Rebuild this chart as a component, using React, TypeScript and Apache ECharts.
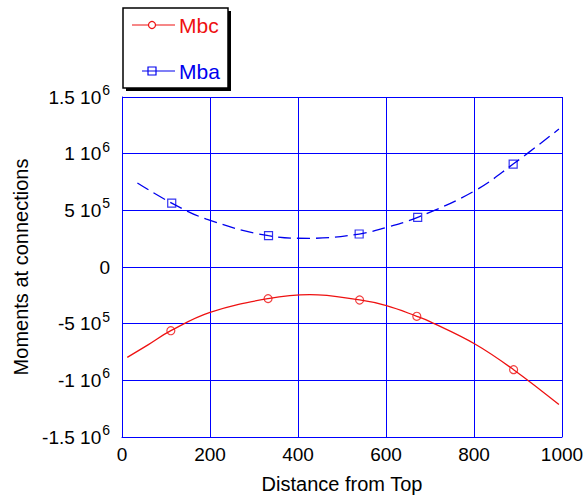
import React, { useEffect, useRef } from "react";
import * as echarts from "echarts";

const xTicks = [0, 200, 400, 600, 800, 1000];
const yTickValues = [-1.5e6, -1e6, -5e5, 0, 5e5, 1e6, 1.5e6];
const yTickMantissa = ["-1.5", "-1", "-5", "0", "5", "1", "1.5"];
const yTickExponent = ["6", "6", "5", "", "5", "6", "6"];

// Mbc fitted curve
const mbcCurveX = [12, 60, 111, 200, 332, 427, 540, 601, 670, 700, 802, 890, 993];
const mbcCurveY = [-7.97e5, -6.85e5, -5.62e5, -4.0e5, -2.79e5, -2.44e5, -2.91e5, -3.41e5, -4.35e5, -4.82e5, -6.79e5, -9.06e5, -1.214e6];
// Mbc markers
const mbcPtsX = [111, 332, 540, 670, 890];
const mbcPtsY = [-5.62e5, -2.79e5, -2.91e5, -4.35e5, -9.06e5];

// Mba fitted curve
const mbaCurveX = [35, 113, 192, 333, 427, 539, 601, 672, 802, 889, 993];
const mbaCurveY = [7.41e5, 5.64e5, 4.23e5, 2.76e5, 2.53e5, 2.91e5, 3.5e5, 4.38e5, 6.73e5, 9.08e5, 1.217e6];
// Mba markers
const mbaPtsX = [113, 333, 539, 672, 889];
const mbaPtsY = [5.64e5, 2.76e5, 2.91e5, 4.38e5, 9.08e5];

const RED = "#ee1111";
const BLUE = "#0000ee";
const GRID = "#0000ff";
const FONT = "'Liberation Sans', Arial, sans-serif";

export default function App() {
  const ref = useRef<HTMLDivElement>(null);
  useEffect(() => {
    if (!ref.current) return;
    const chart = echarts.init(ref.current, undefined, { renderer: "svg" });
    const zip = (xs: number[], ys: number[]) => xs.map((x, i) => [x, ys[i]]);
    chart.setOption({
      animation: false,
      backgroundColor: "#ffffff",
      textStyle: { fontFamily: FONT },
      grid: { left: 122, right: 24, top: 97, bottom: 60, containLabel: false, outerBoundsMode: "none" },
      xAxis: {
        type: "value",
        min: 0,
        max: 1000,
        interval: 200,
        name: "Distance from Top",
        nameLocation: "middle",
        nameGap: 37,
        nameTextStyle: { fontSize: 20, color: "#000", fontFamily: FONT },
        axisLine: { show: true, onZero: false, lineStyle: { color: GRID, width: 1 } },
        axisTick: { show: false },
        axisLabel: {
          margin: 8,
          fontSize: 19,
          color: "#000",
          fontFamily: FONT,
          formatter: (v: number) => (xTicks.includes(v) ? String(v) : ""),
        },
        splitLine: { show: true, lineStyle: { color: GRID, width: 1 } },
      },
      yAxis: {
        type: "value",
        min: -1.5e6,
        max: 1.5e6,
        interval: 5e5,
        name: "Moments at connections",
        nameLocation: "middle",
        nameGap: 89,
        nameTextStyle: { fontSize: 20, color: "#000", fontFamily: FONT },
        axisLine: { show: true, onZero: false, lineStyle: { color: GRID, width: 1 } },
        axisTick: { show: false },
        axisLabel: {
          margin: 12,
          color: "#000",
          fontFamily: FONT,
          formatter: (v: number) => {
            const i = yTickValues.findIndex((t) => Math.abs(t - v) < 1);
            if (i < 0) return "";
            const m = yTickMantissa[i];
            const e = yTickExponent[i];
            return e ? `{b|${m} 10}{s|${e}}` : `{b|${m}}`;
          },
          rich: {
            b: { fontSize: 19, color: "#000", fontFamily: FONT },
            s: { fontSize: 14, color: "#000", fontFamily: FONT, padding: [0, 0, 14, 1] },
          },
        },
        splitLine: { show: true, lineStyle: { color: GRID, width: 1 } },
      },
      series: [
        {
          name: "Mbc",
          type: "line",
          smooth: 0.4,
          symbol: "none",
          data: zip(mbcCurveX, mbcCurveY),
          lineStyle: { color: RED, width: 1.3 },
          z: 3,
        },
        {
          name: "MbcPts",
          type: "scatter",
          symbol: "circle",
          symbolSize: 8,
          data: zip(mbcPtsX, mbcPtsY),
          itemStyle: { color: "rgba(255,255,255,0)", borderColor: RED, borderWidth: 1.2 },
          z: 4,
        },
        {
          name: "Mba",
          type: "line",
          smooth: 0.4,
          symbol: "none",
          data: zip(mbaCurveX, mbaCurveY),
          lineStyle: { color: BLUE, width: 1.3, type: [13, 6] },
          z: 3,
        },
        {
          name: "MbaPts",
          type: "scatter",
          symbol: "rect",
          symbolSize: 8,
          data: zip(mbaPtsX, mbaPtsY),
          itemStyle: { color: "rgba(255,255,255,0)", borderColor: BLUE, borderWidth: 1.2 },
          z: 4,
        },
      ],
      graphic: [
        { type: "rect", shape: { x: 126, y: 11, width: 105, height: 80 }, style: { fill: "#000" }, z: 100 },
        { type: "rect", shape: { x: 123, y: 8, width: 105, height: 80 }, style: { fill: "#fff", stroke: "#000", lineWidth: 1.5 }, z: 101 },
        { type: "line", shape: { x1: 132, y1: 25, x2: 175, y2: 25 }, style: { stroke: RED, lineWidth: 1.2 }, z: 102 },
        { type: "circle", shape: { cx: 152, cy: 25, r: 3.5 }, style: { fill: "#fff", stroke: RED, lineWidth: 1.2 }, z: 103 },
        { type: "text", x: 179, y: 25, style: { text: "Mbc", fill: RED, fontSize: 21, fontFamily: FONT, verticalAlign: "middle" }, z: 103 },
        { type: "line", shape: { x1: 142, y1: 71, x2: 175, y2: 71 }, style: { stroke: BLUE, lineWidth: 1.2 }, z: 102 },
        { type: "rect", shape: { x: 148, y: 67, width: 8, height: 8 }, style: { fill: "rgba(255,255,255,0)", stroke: BLUE, lineWidth: 1.2 }, z: 103 },
        { type: "text", x: 179, y: 71, style: { text: "Mba", fill: BLUE, fontSize: 21, fontFamily: FONT, verticalAlign: "middle" }, z: 103 },
      ],
    });
    return () => chart.dispose();
  }, []);
  return <div ref={ref} style={{ width: 586, height: 497, position: "absolute", left: 0, top: 0 }} />;
}
